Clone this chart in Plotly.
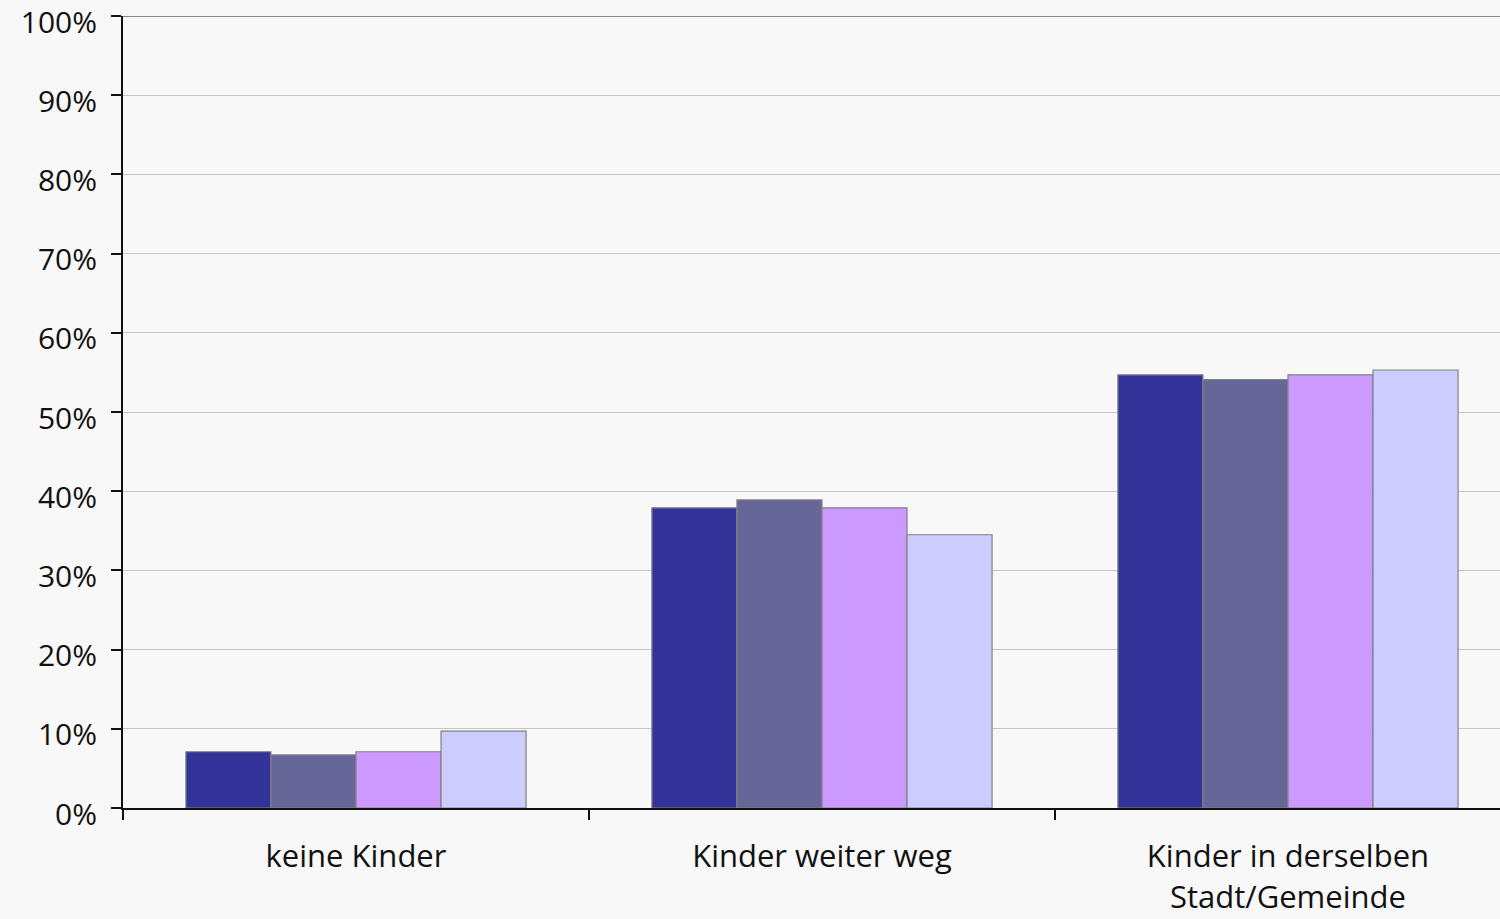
import plotly.graph_objects as go

categories = ["keine Kinder", "Kinder weiter weg", "Kinder in derselben<br>Stadt/Gemeinde"]
series_names = ["Serie 1", "Serie 2", "Serie 3", "Serie 4"]
series_values = [
    [7.1, 37.9, 54.7],
    [6.7, 38.9, 54.1],
    [7.1, 37.9, 54.7],
    [9.7, 34.5, 55.3],
]
colors = ["#333399", "#666699", "#cc99ff", "#ccccff"]
y_ticks = list(range(0, 101, 10))
y_ticktext = [f"{v}%" for v in y_ticks]

fig = go.Figure()
for name, vals, col in zip(series_names, series_values, colors):
    fig.add_trace(go.Bar(
        x=categories, y=vals, name=name,
        marker=dict(color=col, line=dict(color="#808080", width=1.2)),
    ))

font_family = "Open Sans, Liberation Sans, Arial, sans-serif"
fig.update_layout(
    width=1500, height=919,
    paper_bgcolor="#f8f8f8", plot_bgcolor="#f8f8f8",
    margin=dict(l=123, r=0, t=16, b=111),
    barmode="group", bargap=0.27, bargroupgap=0,
    showlegend=False,
    font=dict(family=font_family, size=30, color="#111111"),
    xaxis=dict(
        type="category", range=[-0.5, 2.455], automargin=False,
        showline=True, linecolor="#111111", linewidth=2,
        ticks="outside", tickson="boundaries", ticklen=10, tickwidth=1.5, tickcolor="#111111",
        showgrid=False, ticklabelstandoff=20,
        tickfont=dict(size=31),
    ),
    yaxis=dict(
        range=[0, 100], tickvals=y_ticks, ticktext=y_ticktext, automargin=False,
        showline=True, linecolor="#111111", linewidth=2,
        ticks="outside", ticklen=10, tickwidth=1.5, tickcolor="#111111",
        showgrid=True, gridcolor="#c4c4c4", gridwidth=1,
        zeroline=False, ticklabelstandoff=8, ticklabeloverflow="allow",
        ticklabelshift=6,
        tickfont=dict(size=30),
    ),
)
fig.add_shape(type="line", xref="paper", yref="y", x0=0, x1=1, y0=100, y1=100,
              line=dict(color="#888888", width=2))

fig.write_html(
    "out.html",
    config={"displayModeBar": False},
    post_script="document.body.style.margin='0';document.body.style.background='#f8f8f8';",
)
